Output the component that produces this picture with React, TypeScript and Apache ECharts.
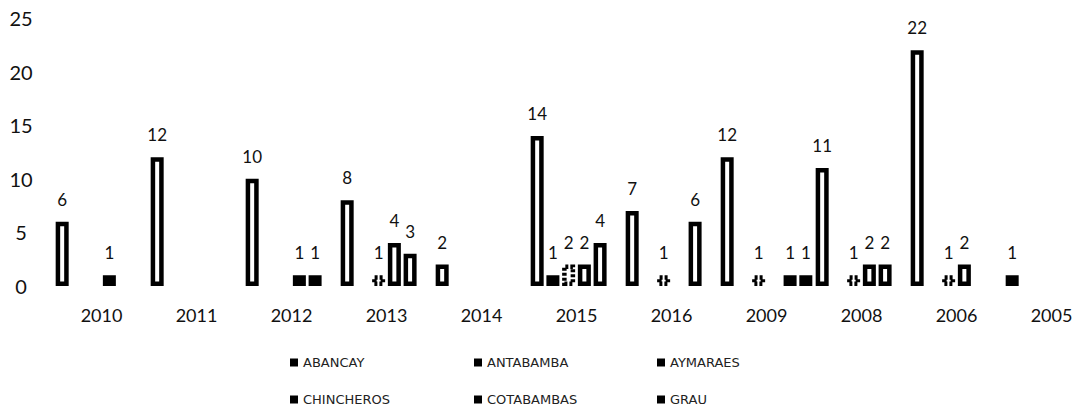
import React, { useEffect, useRef } from "react";
import * as echarts from "echarts";

// Years in the order they appear along the axis
const years = ["2010", "2011", "2012", "2013", "2014", "2015", "2016", "2009", "2008", "2006", "2005"];

// Cases per province and year (null = no bar)
const abancay = [6, 12, 10, 8, 2, 14, 7, 12, 11, 22, 1];
const antabamba = [null, null, null, null, null, 1, null, null, null, null, null];
const aymaraes = [null, null, null, 1, null, 2, 1, 1, 1, 1, null];
const chincheros = [1, null, 1, 4, null, 2, null, null, 2, 2, null];
const cotabambas = [null, null, 1, 3, null, 4, 6, 1, 2, null, null];
const grau = [null, null, null, null, null, null, null, 1, null, null, null];

const provinces = ["ABANCAY", "ANTABAMBA", "AYMARAES", "CHINCHEROS", "COTABAMBAS", "GRAU"];
const seriesValues = [abancay, antabamba, aymaraes, chincheros, cotabambas, grau];

// Value axis range
const yMin = 0;
const yMax = 25;
const yStep = 5;

// Legend laid out as two rows of three
const legendCols = [290, 474, 657];
const legendRows = [356, 393];

export default function App() {
  const ref = useRef<HTMLDivElement>(null);

  useEffect(() => {
    if (!ref.current) return;
    const chart = echarts.init(ref.current, null, { renderer: "svg" });

    const series = provinces.map((name, i) => {
      const dashed = name === "AYMARAES";
      return {
        name,
        type: "bar",
        data: seriesValues[i],
        barWidth: 13,
        barGap: "21%",
        itemStyle: {
          // bars too short for a hollow interior are drawn solid
          color: (p: any) => (!dashed && p.value != null && p.value <= 1 ? "#000" : "#fff"),
          borderColor: "#000",
          borderWidth: 4.5,
          borderType: dashed ? [3, 2] : "solid",
        },
        label: {
          show: true,
          position: "top",
          distance: 14,
          color: "#111",
          fontFamily: "Lato",
          fontSize: 17,
        },
      };
    });

    const legends = provinces.map((name, i) => ({
      data: [name],
      left: legendCols[i % 3],
      top: legendRows[Math.floor(i / 3)],
      padding: 0,
      icon: "rect",
      itemWidth: 8,
      itemHeight: 8,
      itemStyle: { color: "#000", borderWidth: 0 },
      textStyle: { color: "#222", fontFamily: "DejaVu Sans", fontSize: 13 },
      selectedMode: false,
    }));

    chart.setOption({
      animation: false,
      backgroundColor: "#fff",
      // the last year's band runs past the visible right edge
      grid: { left: 54, right: 11, top: 18, bottom: 125, containLabel: false },
      legend: legends,
      xAxis: {
        type: "category",
        data: years,
        axisLine: { show: false },
        axisTick: { show: false },
        axisLabel: {
          color: "#111",
          fontFamily: "Lato",
          fontSize: 18,
          margin: 20,
          interval: 0,
        },
      },
      yAxis: {
        type: "value",
        min: yMin,
        max: yMax,
        interval: yStep,
        axisLine: { show: false },
        axisTick: { show: false },
        splitLine: { show: false },
        axisLabel: {
          color: "#111",
          fontFamily: "Lato",
          fontSize: 20,
          align: "center",
          margin: 33,
        },
      },
      series,
    });

    return () => chart.dispose();
  }, []);

  return (
    <div
      style={{ position: "absolute", left: 0, top: 0, width: 1081, height: 411, overflow: "hidden", background: "#fff" }}
    >
      <div ref={ref} style={{ width: 1110, height: 411 }} />
    </div>
  );
}
